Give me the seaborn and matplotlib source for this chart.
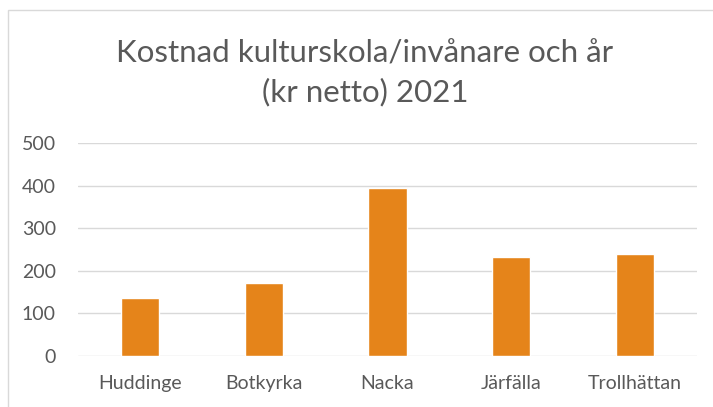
import matplotlib
matplotlib.use("Agg")
import matplotlib.pyplot as plt
import seaborn as sns
import pandas as pd
from matplotlib.patches import Rectangle

categories = ["Huddinge", "Botkyrka", "Nacka", "Järfälla", "Trollhättan"]
values = [135, 172, 394, 232, 240]
title_text = "Kostnad kulturskola/invånare och år\n(kr netto) 2021"

sns.set_theme(style="white")
plt.rcParams["font.family"] = ["Lato", "DejaVu Sans"]

df = pd.DataFrame({"kommun": categories, "kr": values})

fig = plt.figure(figsize=(7.13, 4.07), dpi=100)
ax = fig.add_axes([78/713, 1 - 356/407, (697-78)/713, (356-143)/407])

sns.barplot(data=df, x="kommun", y="kr", color="#E5841A", saturation=1,
            width=0.31, ax=ax, zorder=3)

ax.set_ylim(0, 500)
ax.set_yticks([0, 100, 200, 300, 400, 500])
ax.yaxis.grid(True, color="#D9D9D9", linewidth=1.0, zorder=0)
ax.xaxis.grid(False)
for s in ax.spines.values():
    s.set_visible(False)
ax.set_xlabel("")
ax.set_ylabel("")
ax.tick_params(axis="both", length=0, labelcolor="#595959")
ax.tick_params(axis="x", labelsize=14, pad=14)
ax.tick_params(axis="y", labelsize=14, pad=16)

fig.text(0.512, 1 - 73/407, title_text, ha="center", va="center",
         fontsize=22.5, color="#595959", linespacing=1.4)

# chart border (partially visible)
fig.patches.append(Rectangle((8/713, -0.1), 1.2, 1 - 10/407 + 0.1,
                             transform=fig.transFigure, fill=False,
                             edgecolor="#D9D9D9", linewidth=1.0))

fig.savefig("out.png", dpi=100)
